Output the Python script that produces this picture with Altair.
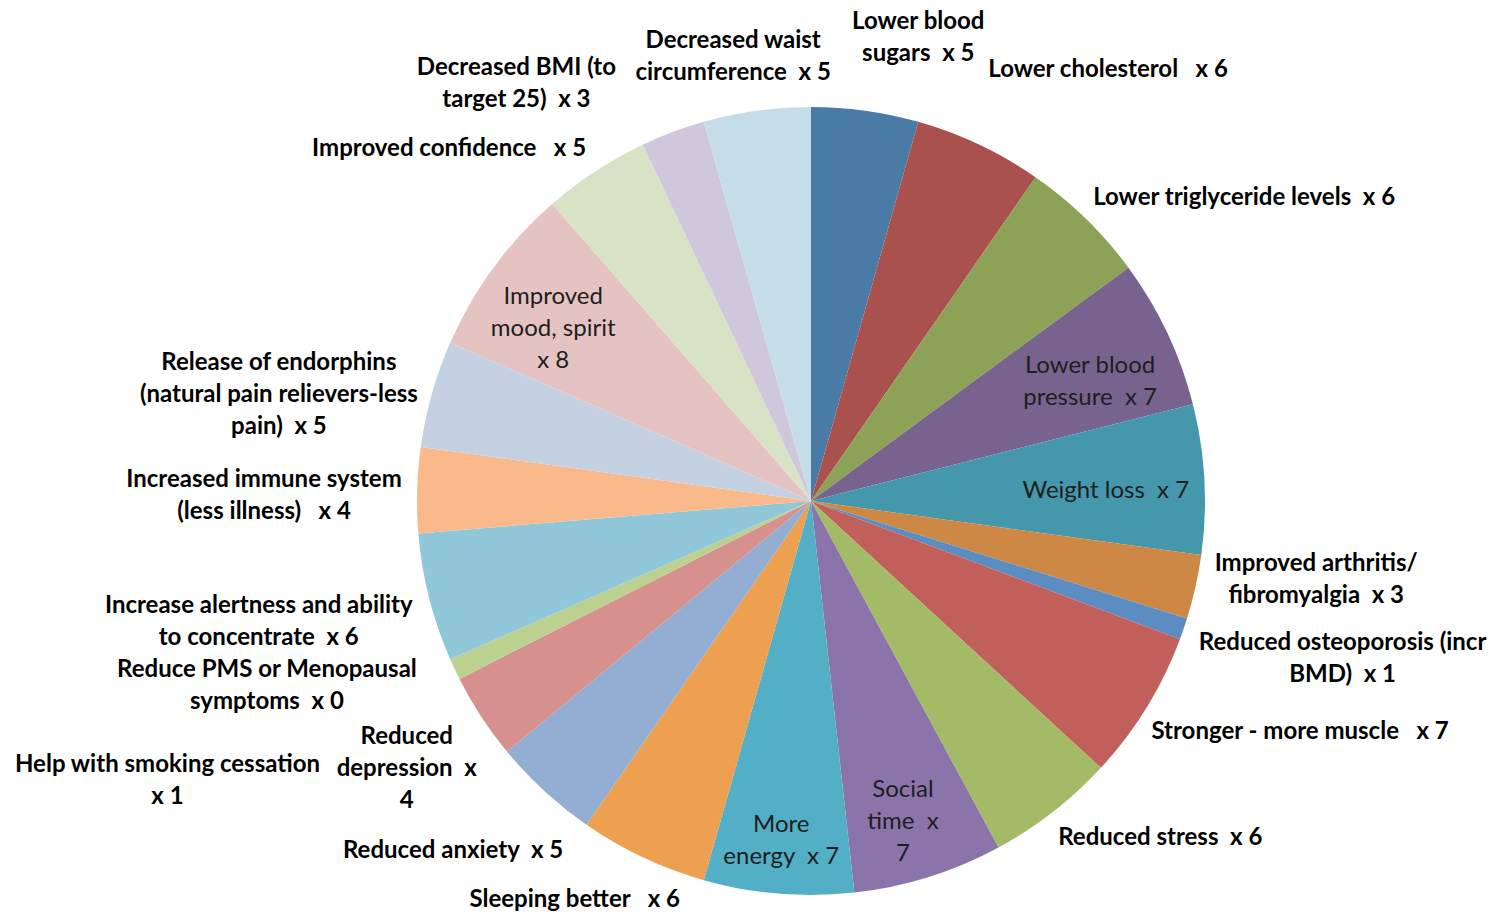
import math
import altair as alt
import pandas as pd

# Reported benefits of exercise, counted clockwise from 12 o'clock
categories = [
    "Lower blood sugars", "Lower cholesterol", "Lower triglyceride levels",
    "Lower blood pressure", "Weight loss", "Improved arthritis/fibromyalgia",
    "Reduced osteoporosis", "Stronger - more muscle", "Reduced stress",
    "Social time", "More energy", "Sleeping better", "Reduced anxiety",
    "Reduced depression", "Help with smoking cessation", "Reduce PMS or Menopausal symptoms",
    "Increase alertness", "Increased immune system", "Release of endorphins",
    "Improved mood, spirit", "Improved confidence", "Decreased BMI",
    "Decreased waist circumference",
]
counts = [5, 6, 6, 7, 7, 3, 1, 7, 6, 7, 7, 6, 5, 4, 1, 0, 6, 4, 5, 8, 5, 3, 5]

# Label wording, wrapped as in the chart; {n} is filled with the count
label_templates = [
    "Lower blood\nsugars  x {n}",
    "Lower cholesterol   x {n}",
    "Lower triglyceride levels  x {n}",
    "Lower blood\npressure  x {n}",
    "Weight loss  x {n}",
    "Improved arthritis/\nfibromyalgia  x {n}",
    "Reduced osteoporosis (incr\nBMD)  x {n}",
    "Stronger - more muscle   x {n}",
    "Reduced stress  x {n}",
    "Social\ntime  x\n{n}",
    "More\nenergy  x {n}",
    "Sleeping better   x {n}",
    "Reduced anxiety  x {n}",
    "Reduced\ndepression  x\n{n}",
    "Help with smoking cessation\nx {n}",
    "Reduce PMS or Menopausal\nsymptoms  x {n}",
    "Increase alertness and ability\nto concentrate  x {n}",
    "Increased immune system\n(less illness)   x {n}",
    "Release of endorphins\n(natural pain relievers-less\npain)  x {n}",
    "Improved\nmood, spirit\nx {n}",
    "Improved confidence   x {n}",
    "Decreased BMI (to\ntarget 25)  x {n}",
    "Decreased waist\ncircumference  x {n}",
]

colors = [
    "#4A7AA6", "#A8514D", "#8CA257", "#78638F", "#4597AC", "#CD8845",
    "#5B8DC3", "#C15F5B", "#A3BB66", "#8A74A9", "#52AFC6", "#EDA050",
    "#93ADD3", "#D6918E", "#BCD08F", "#B3A6C9", "#90C8DA", "#F9B98B",
    "#C4D1E3", "#E5C3C2", "#D8E3C5", "#CFC7DC", "#C4DDE8",
]

# Label placement: distance of the text block's centre from the pie centre
# (px), angular nudge from the slice middle (degrees), inside/outside
label_radius = [477, 525, 530, 304, 295, 511, 554, 540, 484, 332, 339, 462,
                499, 484, 701, 574, 565, 547, 543, 311, 506, 512, 453]
label_nudge = [5.1, 9.2, 10.6, 1.9, 0.9, -4.0, -2.6, -6.5, -8.3, 1.3, 0.3, 5.5,
               3.2, -0.2, 1.9, 5.1, 2.0, -0.8, -4.3, -2.3, -12.5, -14.6, -2.0]
label_inside = [False, False, False, True, True, False, False, False, False, True,
                True, False, False, False, False, False, False, False, False, True,
                False, False, False]

CX, CY, R = 811, 501, 394
LINE_H = 32

total = sum(counts)
rows = []
cum = 0
for i, (cat, n) in enumerate(zip(categories, counts)):
    mid = (cum + n / 2) / total * 360.0
    cum += n
    text = label_templates[i].format(n=n)
    n_lines = text.count("\n") + 1
    # Vega anchors a multi-line text at its first line, so move the anchor
    # up by half the block height to centre the block on its target point
    a = math.radians(mid + label_nudge[i])
    px = label_radius[i] * math.sin(a)
    py = -label_radius[i] * math.cos(a) - (n_lines - 1) * LINE_H / 2
    rows.append({
        "idx": i,
        "category": cat,
        "count": n,
        "text": text.replace("  ", " \u00a0"),
        "ang": math.atan2(px, -py) % (2 * math.pi),
        "lr": math.hypot(px, py),
        "inside": label_inside[i],
    })
df = pd.DataFrame(rows)

pie = alt.Chart(df).mark_arc(radius=R, stroke=None).encode(
    theta=alt.Theta("count:Q", stack=True),
    order=alt.Order("idx:Q", sort="ascending"),
    color=alt.Color("category:N", scale=alt.Scale(domain=categories, range=colors), legend=None),
    x=alt.value(CX),
    y=alt.value(CY),
)

def label_layer(inside):
    style = dict(font="Lato", fontSize=24, lineHeight=LINE_H, align="center",
                 baseline="middle", lineBreak="\n", dy=2)
    if inside:
        style.update(fontWeight="normal", color="#1e1e1e")
    else:
        style.update(fontWeight="bold", color="#000000")
    return alt.Chart(df[df["inside"] == inside]).mark_text(**style).encode(
        theta=alt.Theta("ang:Q", scale=None),
        radius=alt.Radius("lr:Q", scale=None),
        text="text:N",
        x=alt.value(CX),
        y=alt.value(CY),
    )

chart = alt.layer(pie, label_layer(True), label_layer(False)).properties(
    width=1497, height=912, autosize="none", padding=0,
).configure_view(stroke=None)

chart.save("out.html", embed_options={"renderer": "svg", "actions": False})
